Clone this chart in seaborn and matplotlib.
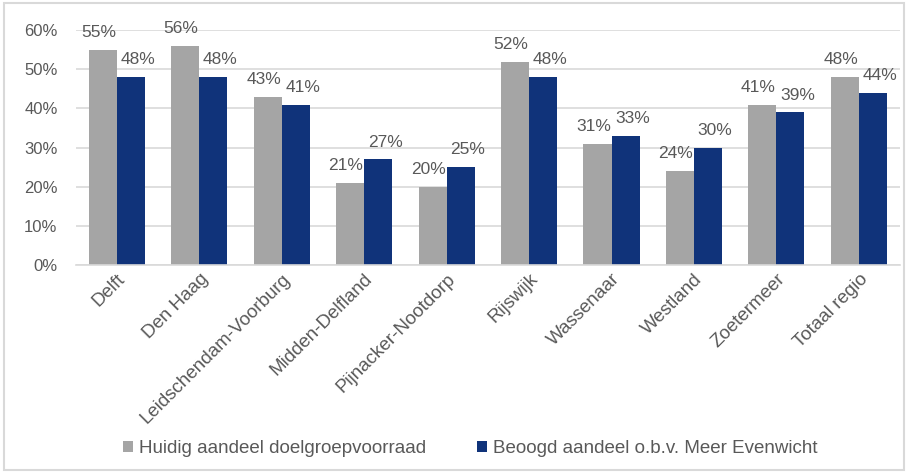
import pandas as pd
import seaborn as sns
import matplotlib.pyplot as plt
from matplotlib.patches import Patch, Rectangle
from matplotlib.ticker import PercentFormatter

# data
gemeenten = ['Delft', 'Den Haag', 'Leidschendam-Voorburg', 'Midden-Delfland',
             'Pijnacker-Nootdorp', 'Rijswijk', 'Wassenaar', 'Westland',
             'Zoetermeer', 'Totaal regio']
huidig = [0.55, 0.56, 0.43, 0.21, 0.20, 0.52, 0.31, 0.24, 0.41, 0.48]
beoogd = [0.48, 0.48, 0.41, 0.27, 0.25, 0.48, 0.33, 0.30, 0.39, 0.44]
series = ['Huidig aandeel doelgroepvoorraad', 'Beoogd aandeel o.b.v. Meer Evenwicht']
colors = ['#A5A5A5', '#10337A']

df = pd.DataFrame({
    'gemeente': gemeenten * 2,
    'aandeel': huidig + beoogd,
    'serie': [series[0]] * len(gemeenten) + [series[1]] * len(gemeenten),
})

sns.set_theme(style='white')
plt.rcParams['font.family'] = ['Liberation Sans', 'DejaVu Sans']
txt = '#595959'

fig = plt.figure(figsize=(9.11, 4.72), dpi=100)
ax = fig.add_axes([0.083, 0.4386, 0.905, 0.4974])

sns.barplot(data=df, x='gemeente', y='aandeel', hue='serie', palette=colors,
            width=0.68, gap=0, saturation=1, legend=False, ax=ax,
            edgecolor='none', linewidth=0)

ax.set_ylim(0, 0.6)
ax.set_yticks([0, 0.1, 0.2, 0.3, 0.4, 0.5, 0.6])
ax.yaxis.set_major_formatter(PercentFormatter(1.0, decimals=0))
ax.yaxis.grid(True, color='#D9D9D9', linewidth=1.2)
ax.set_axisbelow(True)
for s in ['top', 'right', 'left']:
    ax.spines[s].set_visible(False)
ax.spines['bottom'].set_color('#D9D9D9')
ax.spines['bottom'].set_linewidth(1.2)
ax.set_xlabel('')
ax.set_ylabel('')
ax.tick_params(axis='both', length=0, colors=txt)
ax.tick_params(axis='y', pad=13, labelsize=12)
ax.tick_params(axis='x', pad=4, labelsize=13.5)
plt.setp(ax.get_xticklabels(), rotation=45, ha='right', rotation_mode='anchor')

# data labels
offsets = [(-3, 7), (5, 7)]
for cont, (dx, dy) in zip(ax.containers, offsets):
    for bar in cont:
        h = bar.get_height()
        ax.annotate(f'{h * 100:.0f}%', (bar.get_x() + bar.get_width() / 2, h),
                    xytext=(dx, dy), textcoords='offset points',
                    ha='center', va='bottom', fontsize=12.5, color=txt)

handles = [Patch(facecolor=c, edgecolor='none') for c in colors]
fig.legend(handles, series, loc='center', bbox_to_anchor=(0.516, 0.05), ncol=2,
           frameon=False, fontsize=13.5, labelcolor=txt, handlelength=0.55,
           handleheight=0.55, handletextpad=0.3, columnspacing=2.7)

fig.patches.append(Rectangle((0.004, 0.004), 0.988, 0.99, transform=fig.transFigure,
                             fill=False, edgecolor='#D9D9D9', linewidth=1.5))

fig.savefig('out.png', dpi=100)
